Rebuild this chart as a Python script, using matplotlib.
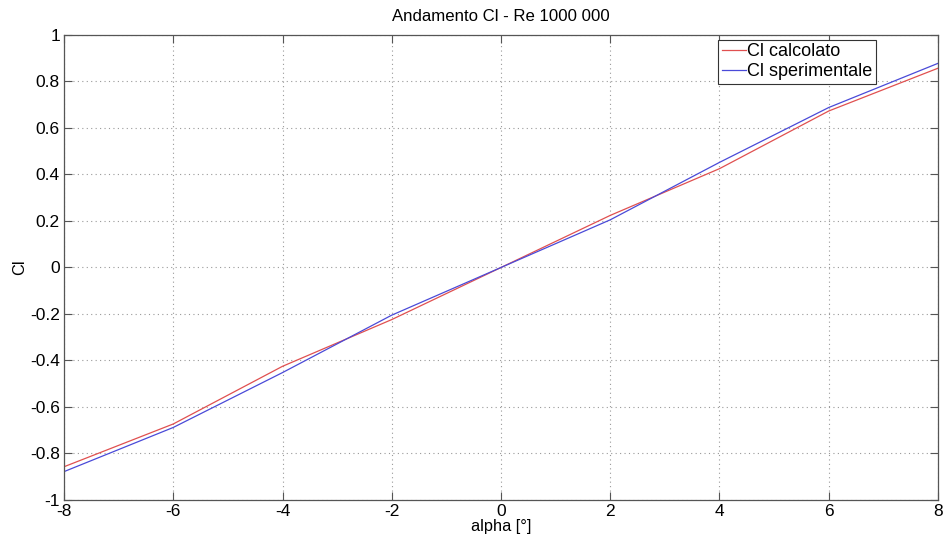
import matplotlib
matplotlib.use("Agg")
import matplotlib.pyplot as plt

alpha = [-8, -6, -4, -2, 0, 2, 4, 6, 8]
cl_calcolato = [-0.857, -0.673, -0.425, -0.224, 0.0, 0.224, 0.425, 0.673, 0.857]
cl_sperimentale = [-0.878, -0.688, -0.452, -0.205, 0.0, 0.205, 0.452, 0.688, 0.878]
xticks = [-8, -6, -4, -2, 0, 2, 4, 6, 8]
yticks = [-1, -0.8, -0.6, -0.4, -0.2, 0, 0.2, 0.4, 0.6, 0.8, 1]
ytick_labels = ["-1", "-0.8", "-0.6", "-0.4", "-0.2", "0", "0.2", "0.4", "0.6", "0.8", "1"]

plt.rcParams['font.family'] = ['Liberation Sans', 'DejaVu Sans']

fig = plt.figure(figsize=(9.46, 5.44), dpi=100)
ax = fig.add_axes([0.0677, 0.0809, 0.9238, 0.8548])

ax.plot(alpha, cl_calcolato, color='#e05050', lw=0.9, label='Cl calcolato')
ax.plot(alpha, cl_sperimentale, color='#4a4ad8', lw=0.9, label='Cl sperimentale')

ax.set_xlim(-8, 8)
ax.set_ylim(-1, 1)
ax.set_xticks(xticks)
ax.set_xticklabels([str(v) for v in xticks])
ax.set_yticks(yticks)
ax.set_yticklabels(ytick_labels)
ax.grid(True, linestyle=(0, (1, 3)), color='#999999', lw=0.8)
ax.tick_params(direction='in', top=True, right=True, labelsize=12.5, length=6, width=0.8, color='#555555', pad=3)
for s in ax.spines.values():
    s.set_color('#555555')
    s.set_linewidth(0.9)

ax.set_xlabel('alpha [°]', fontsize=11.8, labelpad=0)
ax.set_ylabel('Cl', fontsize=11.8, labelpad=2)
ax.set_title('Andamento Cl - Re 1000 000', fontsize=12.1, pad=10)

leg = ax.legend(loc='upper right', bbox_to_anchor=(0.929, 0.99), fontsize=13, fancybox=False,
                framealpha=1, edgecolor='#333333', borderpad=0.2, handlelength=1.35,
                handletextpad=0.05, labelspacing=0.15, borderaxespad=0.0)
leg.get_frame().set_linewidth(0.8)

fig.savefig('out.png', dpi=100)
